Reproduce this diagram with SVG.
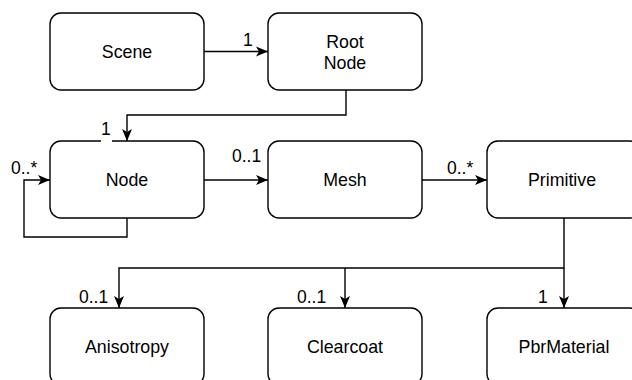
<svg xmlns="http://www.w3.org/2000/svg" width="632" height="380" viewBox="0 0 632 380">
<defs>
<style>
.box{fill:#fff;stroke:#000;stroke-width:1.4}
.t{font-family:"Liberation Sans",Arial,Helvetica,sans-serif;font-size:17.8px;fill:#000;text-anchor:middle}
.l{font-family:"Liberation Sans",Arial,Helvetica,sans-serif;font-size:17.5px;fill:#000}
.e{fill:none;stroke:#000;stroke-width:1.4}
</style>
<marker id="arr" markerUnits="userSpaceOnUse" viewBox="0 0 12 12" markerWidth="12" markerHeight="12" refX="12" refY="6" orient="auto">
<path d="M0,1 L12,6 L0,11 L3,6 z" fill="#000"/>
</marker>
</defs>
<rect width="632" height="380" fill="#fff"/>
<g id="connectors">
<path class="e" d="M204,51.5 H268" marker-end="url(#arr)"/>
<path class="e" d="M346,90 V115 H127 V141" marker-end="url(#arr)"/>
<path class="e" d="M127,218 V237 H24 V180 H50" marker-end="url(#arr)"/>
<path class="e" d="M204,180 H268" marker-end="url(#arr)"/>
<path class="e" d="M422,180 H487" marker-end="url(#arr)"/>
<path class="e" d="M564,218 V268 H119 V308" marker-end="url(#arr)"/>
<path class="e" d="M345,268 V308" marker-end="url(#arr)"/>
<path class="e" d="M564,268 V308" marker-end="url(#arr)"/>
</g>
<g id="scene"><rect class="box" x="50" y="13" width="154" height="77" rx="11"/><text class="t" x="127" y="57.5">Scene</text></g>
<g id="rootnode"><rect class="box" x="268" y="13" width="154" height="77" rx="11"/><text class="t" x="345" y="48">Root</text><text class="t" x="345" y="69">Node</text></g>
<g id="node"><rect class="box" x="50" y="141" width="154" height="77" rx="11"/><text class="t" x="127" y="186">Node</text></g>
<g id="mesh"><rect class="box" x="268" y="141" width="154" height="77" rx="11"/><text class="t" x="345" y="186">Mesh</text></g>
<g id="primitive"><rect class="box" x="487" y="141" width="154" height="77" rx="11"/><text class="t" x="562" y="186">Primitive</text></g>
<g id="anisotropy"><rect class="box" x="50" y="308" width="154" height="77" rx="11"/><text class="t" x="127" y="353">Anisotropy</text></g>
<g id="clearcoat"><rect class="box" x="268" y="308" width="154" height="77" rx="11"/><text class="t" x="345" y="353">Clearcoat</text></g>
<g id="pbrmaterial"><rect class="box" x="487" y="308" width="154" height="77" rx="11"/><text class="t" x="564" y="353">PbrMaterial</text></g>
<g id="labels">
<text class="l" x="243" y="46">1</text>
<rect x="101" y="126" width="11" height="16" fill="#fff"/>
<text class="l" x="101" y="135">1</text>
<text class="l" x="11" y="174">0..*</text>
<text class="l" x="232" y="162">0..1</text>
<text class="l" x="447" y="174">0..*</text>
<text class="l" x="79" y="303">0..1</text>
<text class="l" x="297" y="303">0..1</text>
<text class="l" x="538" y="303">1</text>
</g>
</svg>
